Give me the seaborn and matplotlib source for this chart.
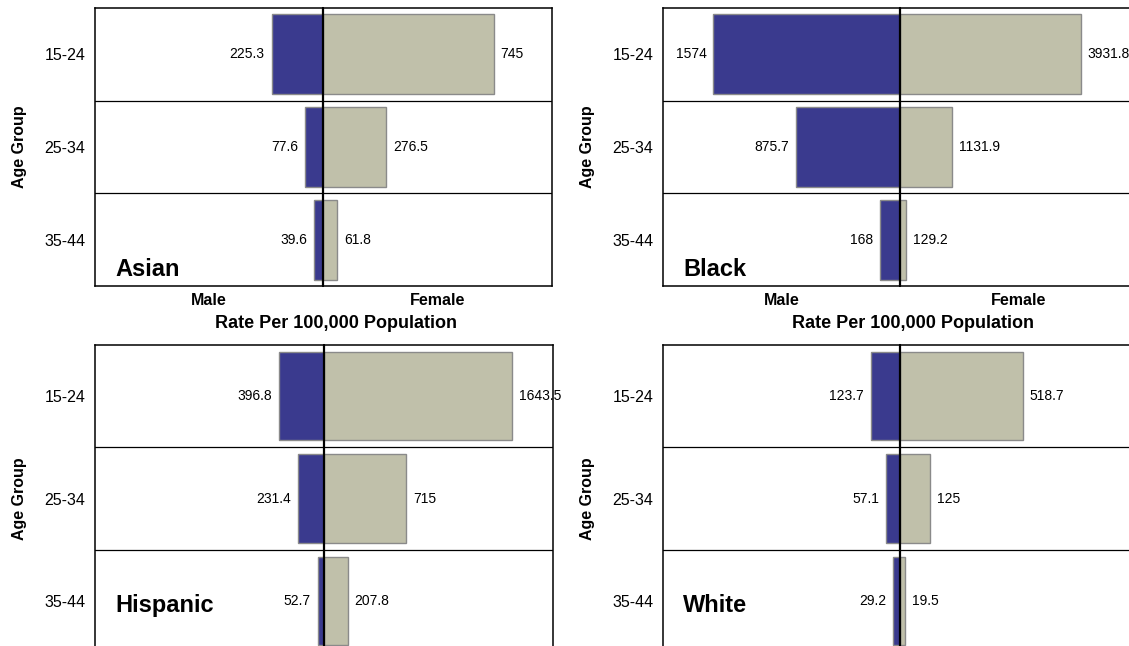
import matplotlib
matplotlib.use("Agg")
import matplotlib.pyplot as plt
import seaborn as sns
import pandas as pd

# rates per 100,000 population by age group
ages = ["15-24", "25-34", "35-44"]
asian_male = [225.3, 77.6, 39.6]
asian_female = [745, 276.5, 61.8]
black_male = [1574, 875.7, 168]
black_female = [3931.8, 1131.9, 129.2]
hispanic_male = [396.8, 231.4, 52.7]
hispanic_female = [1643.5, 715, 207.8]
white_male = [123.7, 57.1, 29.2]
white_female = [518.7, 125, 19.5]

male_col = "#3a3a8e"
female_col = "#c0c0aa"
edge_col = "#8a8a8a"

sns.set_style("white")
plt.rcParams["font.family"] = ["Liberation Sans", "DejaVu Sans"]
plt.rcParams["text.color"] = "black"
plt.rcParams["axes.labelcolor"] = "black"
plt.rcParams["ytick.color"] = "black"

W, H = 1129, 646
fig = plt.figure(figsize=(W / 100, H / 100), dpi=100)


def rect(l, r, t, b):
    return [l / W, 1 - b / H, (r - l) / W, (b - t) / H]


# name, male, female, left, center, right, top, bottom, male max, female max, labels
panels = [
    ("Asian", asian_male, asian_female, 95, 323, 552, 8, 286, 1000, 1000, True),
    ("Black", black_male, black_female, 663, 900, 1137, 8, 286, 2000, 5150, True),
    ("Hispanic", hispanic_male, hispanic_female, 95, 324, 553, 345, 652, 2000, 2000, False),
    ("White", white_male, white_female, 663, 900, 1137, 345, 652, 1000, 1000, False),
]

for name, m, f, left, center, right, top, bottom, mmax, fmax, lab in panels:
    df = pd.DataFrame({"age": ages, "male": m, "female": f})
    axL = fig.add_axes(rect(left, center, top, bottom))
    axR = fig.add_axes(rect(center, right, top, bottom))

    sns.barplot(data=df, x="male", y="age", ax=axL, color=male_col, saturation=1,
                edgecolor=edge_col, linewidth=1, width=0.86)
    sns.barplot(data=df, x="female", y="age", ax=axR, color=female_col, saturation=1,
                edgecolor=edge_col, linewidth=1, width=0.86)
    axL.set_xlim(mmax, 0)
    axR.set_xlim(0, fmax)

    axL.bar_label(axL.containers[0], labels=[f"{v:g}" for v in m], padding=5,
                  fontsize=10)
    axR.bar_label(axR.containers[0], labels=[f"{v:g}" for v in f], padding=5,
                  fontsize=10, clip_on=False)

    for ax in (axL, axR):
        ax.set_ylim(2.5, -0.5)
        ax.set_xticks([])
        for y in (0.5, 1.5):
            ax.axhline(y, color="black", lw=0.9)
        for s in ax.spines.values():
            s.set_color("black")
            s.set_linewidth(1.1)
    axL.spines["right"].set_visible(False)
    axR.spines["left"].set_visible(False)
    axR.axvline(0, color="black", lw=1.6, clip_on=False, zorder=5)

    axR.set_yticks([])
    axR.set_ylabel("")
    axL.tick_params(axis="y", length=0, pad=7, labelsize=11.5)
    axL.set_ylabel("Age Group", fontsize=11.5, fontweight="bold", labelpad=12)

    if lab:
        axL.set_xlabel("Male", fontsize=11.5, fontweight="bold", labelpad=5)
        axR.set_xlabel("Female", fontsize=11.5, fontweight="bold", labelpad=5)
        fig.text((center + 13) / W, 1 - 323 / H, "Rate Per 100,000 Population",
                 ha="center", va="center", fontsize=13, fontweight="bold")
    else:
        axL.set_xlabel("")
        axR.set_xlabel("")

    # group name inside the lower-left corner
    base = bottom - 10 if lab else bottom - 40
    fig.text((left + 20) / W, 1 - base / H, name, ha="left", va="baseline",
             fontsize=17, fontweight="bold")

fig.savefig("out.png", dpi=100)
